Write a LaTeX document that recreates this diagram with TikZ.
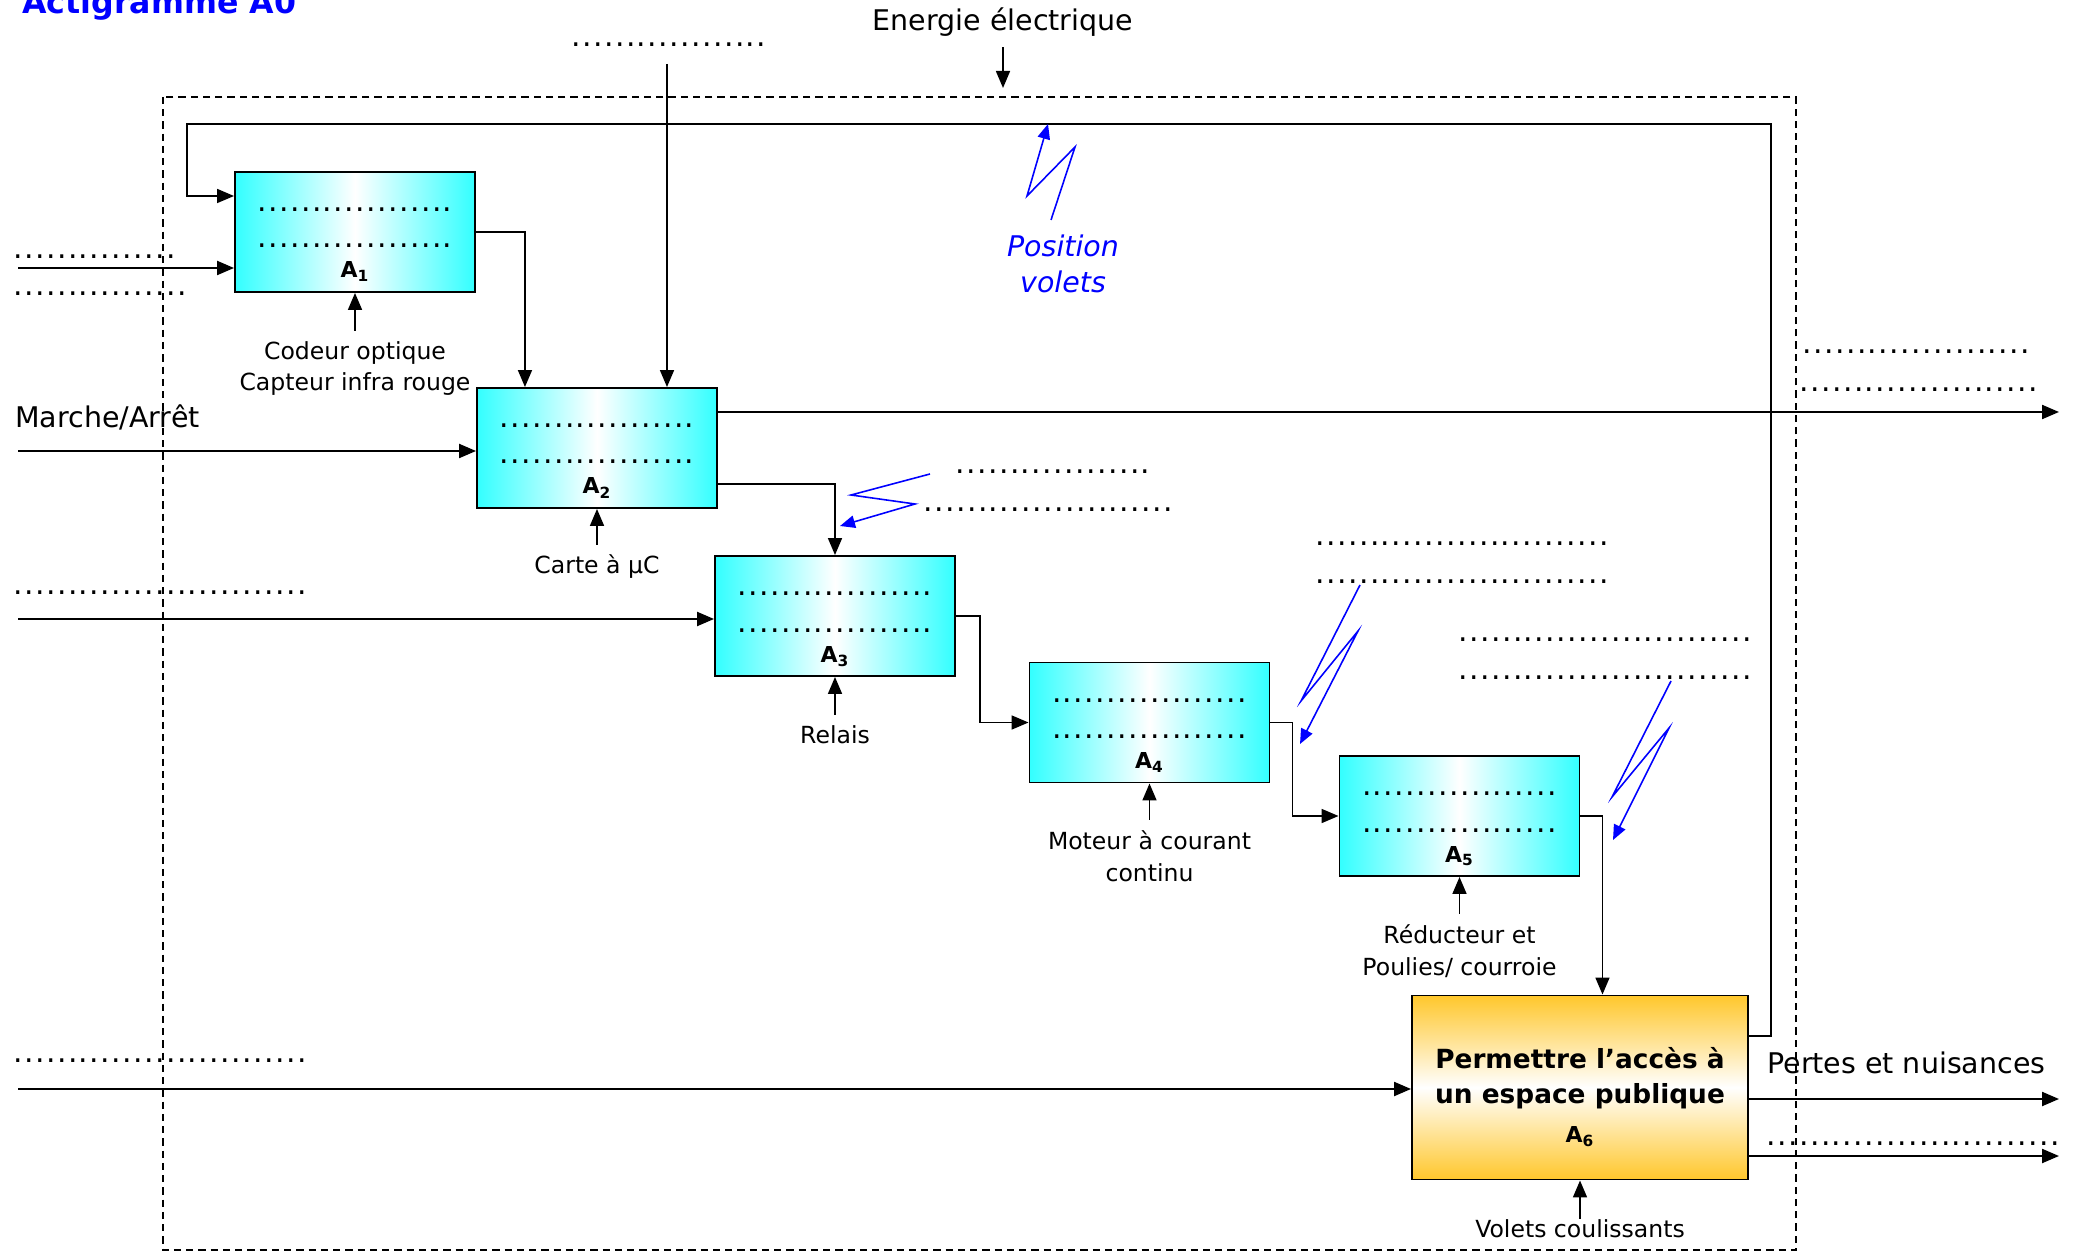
\documentclass[tikz,border=0pt]{standalone}
\usepackage{fontspec}
\setmainfont{DejaVu Sans}
\usepackage{tikz}
\usetikzlibrary{arrows.meta,calc}
\definecolor{cyanbloc}{RGB}{51,255,255}
\definecolor{orbloc}{RGB}{255,199,44}
\newcommand{\cA}{cyanbloc}
\newcommand{\cO}{orbloc}
\newcommand{\cE}{blue}
\newcommand{\grand}{\fontsize{16.2}{20.5}\selectfont}
\newcommand{\petit}{\fontsize{13.4}{18.2}\selectfont}
\newcommand{\pts}[1]{\foreach \k in {1,...,#1}{\hbox to 2.18mm{\hss.\hss}}}
\tikzset{
    cadre/.style={line width=1pt, dash pattern=on 1.45mm off 1mm},
    bloc/.style={draw, line width=1.1pt, minimum width=48mm, minimum height=24mm, left color=\cA, right color=\cA, middle color=white},
    blocfin/.style={draw, line width=1.1pt, minimum width=67.2mm, minimum height=36.8mm, top color=\cO, bottom color=\cO, middle color=white},
    fleche/.style={line width=1.25pt, -{Triangle[length=3.4mm,width=2.8mm]}},
    fine/.style={line width=0.95pt, -{Triangle[length=3.4mm,width=2.8mm]}},
    eclair/.style={color=\cE, line width=0.9pt, -{Triangle[length=3mm,width=2.5mm]}},
    pointilles/.style={anchor=base west, inner sep=0pt, font=\fontsize{17}{18}\selectfont},
    meca/.style={anchor=base, align=center, font=\petit, inner xsep=0pt, inner ysep=2mm},
    repere/.style={anchor=base, inner sep=0pt, font=\fontsize{12.5}{14}\selectfont\bfseries},
    grandtexte/.style={anchor=base west, inner sep=0pt, font=\grand},
}

\begin{document}
\begin{tikzpicture}[x=0.2mm, y=-0.2mm]
    \useasboundingbox (0,0) rectangle (2075,1252);
    % --- --- --- Frame A0
    \draw[cadre] (163,97) rectangle (1796,1250);
    \node[anchor=base west, inner sep=0pt, font=\fontsize{18}{20}\selectfont\bfseries, text=\cE] (titre) at (22,14) {Actigramme A0};
    % --- --- --- Boxes
    \node[bloc] (a1) at (355,232) {};
    \node[bloc] (a2) at (597,448) {};
    \node[bloc] (a3) at (835,616) {};
    \node[bloc] (a4) at (1149.5,722.5) {};
    \node[bloc] (a5) at (1459.5,816) {};
    \node[blocfin] (a6) at (1580,1087.5) {};
    % --- --- --- Box contents
    \node[pointilles, anchor=base] (p1a) at (355,211.5) {\pts{18}};
    \node[pointilles, anchor=base] (p1b) at (355,248) {\pts{18}};
    \node[repere] (r1) at (355,278) {A\textsubscript{1}};
    \node[pointilles, anchor=base] (p2a) at (597,427.5) {\pts{18}};
    \node[pointilles, anchor=base] (p2b) at (597,464) {\pts{18}};
    \node[repere] (r2) at (597,494) {A\textsubscript{2}};
    \node[pointilles, anchor=base] (p3a) at (835,595.5) {\pts{18}};
    \node[pointilles, anchor=base] (p3b) at (835,632) {\pts{18}};
    \node[repere] (r3) at (835,662) {A\textsubscript{3}};
    \node[pointilles, anchor=base] (p4a) at (1149.5,702) {\pts{18}};
    \node[pointilles, anchor=base] (p4b) at (1149.5,738.5) {\pts{18}};
    \node[repere] (r4) at (1149.5,768.5) {A\textsubscript{4}};
    \node[pointilles, anchor=base] (p5a) at (1459.5,795.5) {\pts{18}};
    \node[pointilles, anchor=base] (p5b) at (1459.5,832) {\pts{18}};
    \node[repere] (r5) at (1459.5,862) {A\textsubscript{5}};
    \node[anchor=base, align=center, inner sep=0pt, font=\fontsize{15}{19.4}\selectfont\bfseries] (t6) at (1580,1103) {Permettre l’accès à\\un espace publique};
    \node[repere] (r6) at (1580,1142) {A\textsubscript{6}};
    % --- --- --- Free texts
    \node[font=\grand, anchor=base, inner ysep=2mm] (energie) at (1003,31) {Energie électrique};
    \node[grandtexte] (marche) at (15,428) {Marche/Arrêt};
    \node[grandtexte] (pertes) at (1767,1073) {Pertes et nuisances};
    \node[font=\grand\itshape, text=\cE, align=center, anchor=base, inner sep=0pt] (posv) at (1063,293) {Position\\volets};
    % --- --- --- Dotted blanks
    \node[pointilles] (d1) at (12.5,258.5) {\pts{15}};
    \node[pointilles] (d2) at (12.5,295.5) {\pts{16}};
    \node[pointilles] (d3) at (570.5,46.5) {\pts{18}};
    \node[pointilles] (d4) at (1801.5,353.5) {\pts{21}};
    \node[pointilles] (d5) at (1798.5,391.5) {\pts{22}};
    \node[pointilles] (d6) at (954.5,473.5) {\pts{18}};
    \node[pointilles] (d7) at (922.5,511.5) {\pts{23}};
    \node[pointilles] (d8) at (12.5,594.5) {\pts{27}};
    \node[pointilles] (d9) at (1314.5,545.5) {\pts{27}};
    \node[pointilles] (d10) at (1314.5,583.5) {\pts{27}};
    \node[pointilles] (d11) at (1457.5,641.5) {\pts{27}};
    \node[pointilles] (d12) at (1457.5,679.5) {\pts{27}};
    \node[pointilles] (d13) at (12.5,1062.5) {\pts{27}};
    \node[pointilles] (d14) at (1765.5,1145.5) {\pts{27}};
    % --- --- --- Mechanisms
    \node[meca] (m1) at (355,391) {Codeur optique\\Capteur infra rouge};
    \node[meca] (m2) at (597,574) {Carte à µC};
    \node[meca] (m3) at (835,743) {Relais};
    \node[meca] (m4) at (1149.5,881) {Moteur à courant\\continu};
    \node[meca] (m5) at (1459.5,975) {Réducteur et\\Poulies/ courroie};
    \node[meca, inner ysep=0pt] (m6) at (1580,1237) {Volets coulissants};
    \draw[fine] (m1.north) -- (a1.south);
    \draw[fine] (m2.north) -- (a2.south);
    \draw[fine] (m3.north) -- (a3.south);
    \draw[fine] (m4.north) -- (a4.south);
    \draw[fine] (m5.north) -- (a5.south);
    \draw[fine] (m6.north) -- (a6.south);
    % === === === Inputs
    \coordinate (e1) at (18,268);
    \coordinate (e2) at (18,451);
    \coordinate (e3) at (18,619);
    \coordinate (e6) at (18,1089);
    \draw[fleche] (e1) -- (e1 -| a1.west);
    \draw[fleche] (e2) -- (e2 -| a2.west);
    \draw[fleche] (e3) -- (e3 -| a3.west);
    \draw[fleche] (e6) -- (e6 -| a6.west);
    % === === === Controls
    \coordinate (e0) at (1003,88);
    \draw[fine] (energie.south) -- (e0);
    \coordinate (c2) at (667,64);
    \draw[fine] (c2) -- (c2 |- a2.north);
    % === === === Links between boxes
    \draw[fine] (a1.east) -- ++(49,0) coordinate (k1) -- (k1 |- a2.north);
    \draw[fine] (a2.east) ++(0,36) -| (a3.north);
    \draw[fine] (a3.east) -- ++(24,0) |- (a4.west);
    \draw[fine] (a4.east) -- ++(22,0) |- (a5.west);
    \draw[fine] (a5.east) -- ++(22,0) coordinate (k5) -- (k5 |- a6.north);
    % === === === Feedback
    \coordinate (fb) at (1771,124);
    \coordinate (fb2) at (187,124);
    \draw[fine] (a6.east) ++(0,-51.5) -| (fb) -- (fb2) |- ($(a1.west)+(0,-36)$);
    % === === === Outputs
    \coordinate (s2) at (2059,412);
    \coordinate (s6a) at (2059,1099);
    \coordinate (s6b) at (2059,1156);
    \draw[fleche] (a2.east |- s2) -- (s2);
    \draw[fleche] (a6.east |- s6a) -- (s6a);
    \draw[fleche] (a6.east |- s6b) -- (s6b);
    % === === === Wireless flows
    \draw[eclair] (1051,220) -- (1075,147) -- (1027,196) -- (1048,124);
    \draw[eclair] (930,474) -- (851,495) -- (915,504) -- (840,526);
    \draw[eclair] (1360,585) -- (1301,701) -- (1358,631) -- (1300,744);
    \draw[eclair] (1671,681) -- (1612,797) -- (1669,728) -- (1613,840);
\end{tikzpicture}
\end{document}
